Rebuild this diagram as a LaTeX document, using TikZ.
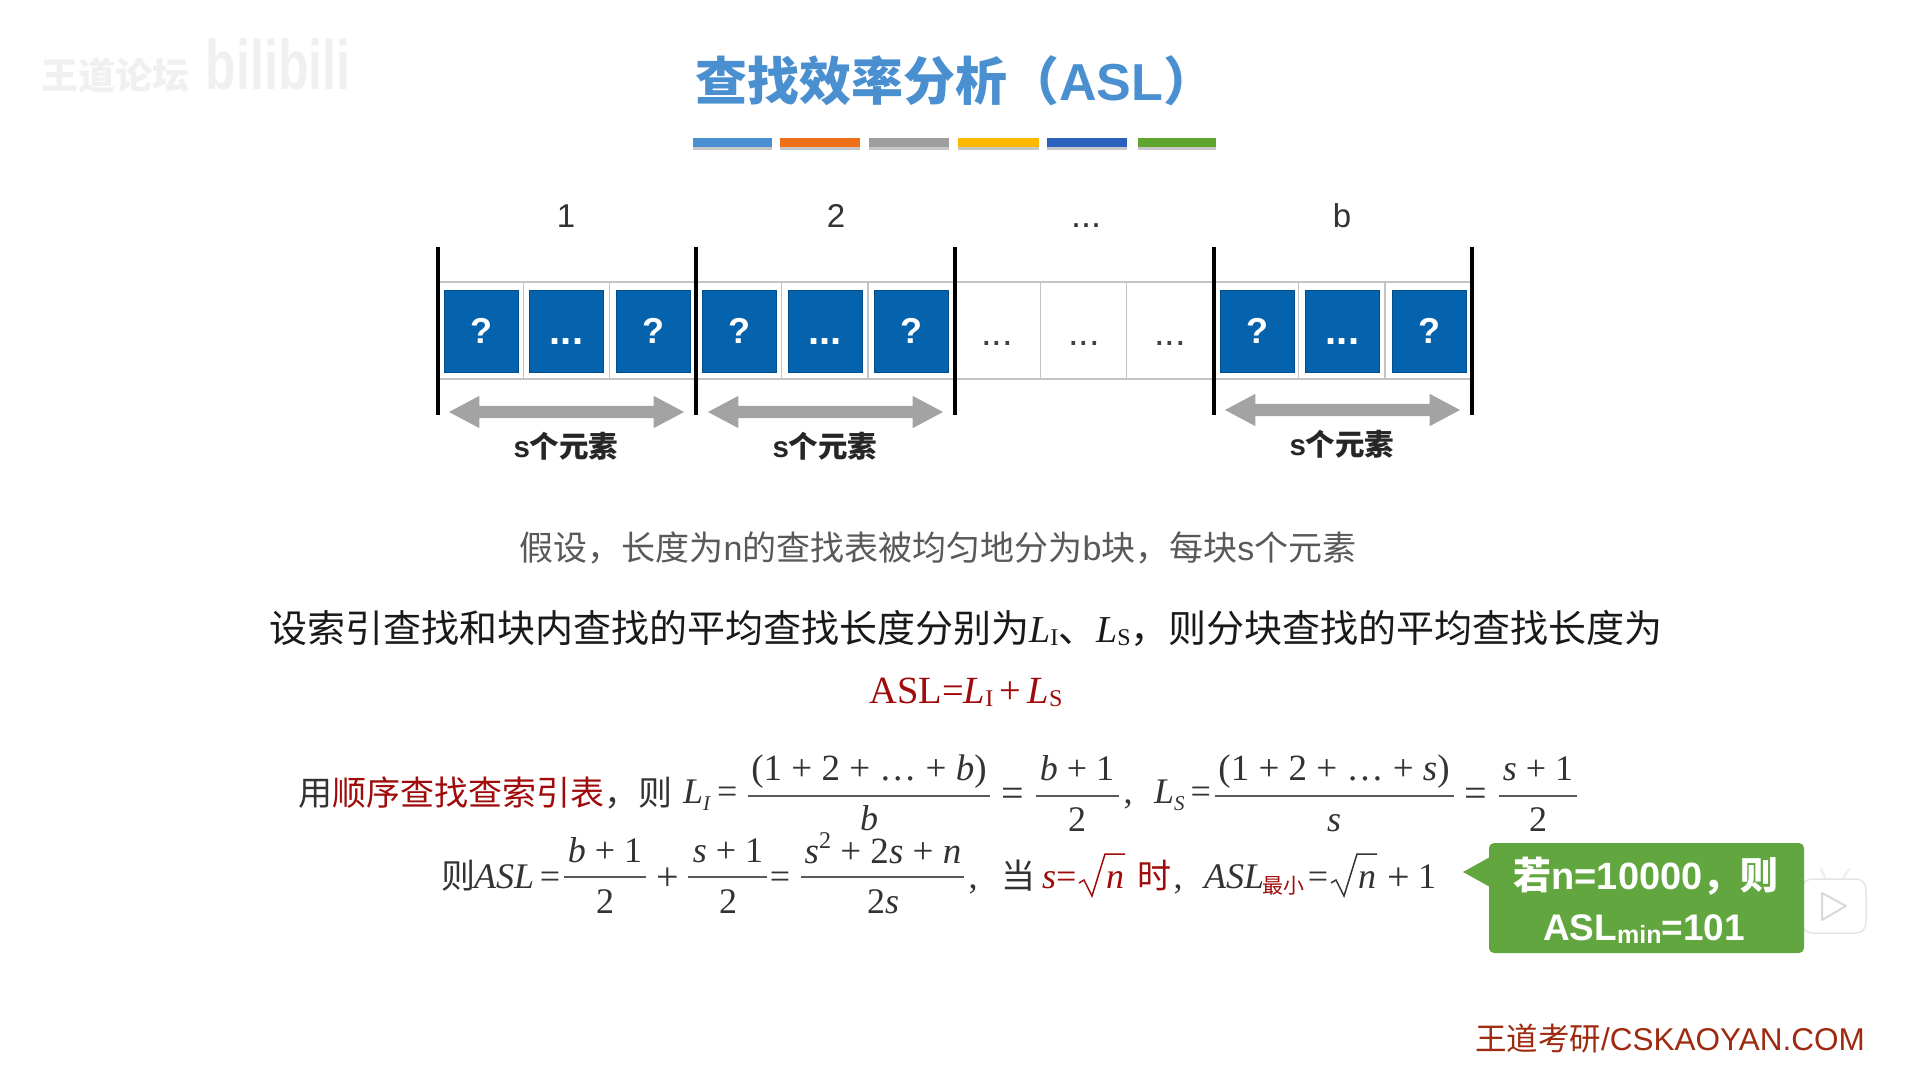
\documentclass[tikz,border=0pt]{standalone}
\usepackage{fontspec}
\usetikzlibrary{shapes.arrows}
\setmainfont{Liberation Sans}
\newfontfamily\cjk{Noto Sans CJK SC}
\newfontfamily\srf{Liberation Serif}
\newcommand{\fsz}[1]{\fontsize{#1}{#1}\selectfont}
\newcommand{\mi}[1]{\textit{#1}}
\newcommand{\subs}[2]{\raisebox{-0.2em}{\fsz{#1}#2}}
\newcommand{\subt}[2]{\raisebox{-0.08em}{\fsz{#1}#2}}
\definecolor{titleblue}{HTML}{4A90D0}
\definecolor{boxblue}{HTML}{0563AE}
\definecolor{boxedge}{HTML}{004E8C}
\definecolor{darkred}{HTML}{A00A0A}
\definecolor{callout}{HTML}{62A63F}
\definecolor{wm}{HTML}{F0F0F0}
\definecolor{gridgray}{HTML}{C4C4C4}
\definecolor{arrowgray}{HTML}{A3A3A3}
\definecolor{footred}{HTML}{9E2A10}
\definecolor{sA}{HTML}{4A90D0}
\definecolor{sB}{HTML}{F0701A}
\definecolor{sC}{HTML}{9E9E9E}
\definecolor{sD}{HTML}{FFB800}
\definecolor{sE}{HTML}{2A62BE}
\definecolor{sF}{HTML}{5FA52E}
\tikzset{
  x=1pt,y=-1pt,
  stripe/.style={minimum height=9pt,inner sep=0pt,outer sep=0pt,anchor=north west},
  cellbox/.style={fill=boxblue,draw=boxedge,line width=0.8pt,minimum width=74pt,minimum height=82pt,inner sep=0pt,text=white,font=\fsz{36}\bfseries},
  celldots/.style={text=white,font=\fsz{40}\bfseries,inner sep=0pt},
  cellgap/.style={text=black!75,font=\fsz{38},inner sep=0pt},
  divider/.style={black,line width=3.4pt},
  grid/.style={gridgray,line width=1.3pt},
  span/.style={double arrow,fill=arrowgray,minimum height=235pt,inner xsep=0pt,inner ysep=6pt,double arrow head extend=10pt,double arrow tip angle=56},
  spanlabel/.style={font=\fsz{29.5}\bfseries,text=black!85,inner sep=0pt},
  blocknum/.style={font=\fsz{33},text=black!80,inner sep=0pt},
  mth/.style={font=\srf\fsz{36},text=black!80,inner sep=0pt,anchor=base},
  mbig/.style={mth,font=\srf\fsz{37}},
  mred/.style={mth,text=darkred},
  cn/.style={font=\cjk\fsz{34},text=black!80,inner sep=0pt,anchor=base},
  fracline/.style={black!65,line width=1.5pt},
  root/.style={line width=1.5pt,line join=miter},
}
\begin{document}
\begin{tikzpicture}
\useasboundingbox (0,0) rectangle (1910,1065);
\fill[white] (0,0) rectangle (1910,1065);

% watermark
\node[font=\cjk\bfseries\fsz{37},text=wm,inner sep=0pt] (wmtext) at (115,75) {王道论坛};
\node[font=\bfseries\fsz{50},text=wm,inner sep=0pt,yscale=1.4] (wmlogo) at (278,64) {bilibili};

% title
\node[font=\cjk\bfseries\fsz{52},text=titleblue,inner sep=0pt] (title) at (955,81) {查找效率分析（{\fontspec{Liberation Sans}\bfseries ASL}）};

% stripes
\foreach \a/\b/\c [count=\i] in {693/772/sA,780/860/sB,869/949/sC,958/1039/sD,1047/1127/sE,1138/1216/sF}{
  \fill[black!22] (\a,141) rectangle (\b,150);
  \node[stripe,minimum width={\b-\a},fill=\c] (stripe\i) at (\a,138) {};
}

% grid
\draw[grid] (437,282) -- (1471,282);
\draw[grid] (437,379) -- (1471,379);
\foreach \k in {0,...,11}{
  \draw[grid] ({437+\k*86.17},282) -- ({437+\k*86.17},379);
}

% blue boxes
\foreach \s/\n in {437/a,695.5/b,1213/d}{
  \node[cellbox] (\n1) at (\s+44,331) {?};
  \node[cellbox] (\n2) at (\s+129.5,331) {};
  \node[celldots] (\n4) at (\s+129.5,342) {...};
  \node[cellbox] (\n3) at (\s+216,331) {?};
}
\node[cellgap] (c1) at (997,343) {...};
\node[cellgap] (c2) at (1084,343) {...};
\node[cellgap] (c3) at (1170,343) {...};

% dividers
\foreach \x/\n in {438/0,696/1,955/2,1214/3,1472/4}{
  \coordinate (dtop\n) at (\x,247);
  \coordinate (dbot\n) at (\x,415);
  \draw[divider] (dtop\n) -- (dbot\n);
}

% block numbers
\node[blocknum] (n1) at (566,216) {1};
\node[blocknum] (n2) at (836,216) {2};
\node[blocknum,font=\fsz{36}] (n3) at (1086,226) {...};
\node[blocknum] (n4) at (1342,216) {b};

% spans
\node[span] (s1) at (566.5,412) {};
\node[span] (s2) at (825.5,412) {};
\node[span] (s3) at (1342.5,410) {};
\node[spanlabel] (l1) at (566,446) {s{\cjk\bfseries 个元素}};
\node[spanlabel] (l2) at (825,446) {s{\cjk\bfseries 个元素}};
\node[spanlabel] (l3) at (1342,444) {s{\cjk\bfseries 个元素}};

% text lines
\node[font=\fsz{34},text=black!65,inner sep=0pt] (t1) at (938,548) {{\cjk 假设，长度为}n{\cjk 的查找表被均匀地分为}b{\cjk 块，每块}s{\cjk 个元素}};
\node[font=\cjk\fsz{38},text=black!90,inner sep=0pt] (t2) at (966,628) {设索引查找和块内查找的平均查找长度分别为{\srf\mi{L}\subt{24}{I}}、{\srf\mi{L}\subt{24}{S}}，则分块查找的平均查找长度为};
\node[font=\srf\fsz{38.5},text=darkred,inner sep=0pt] (t3) at (966,692) {ASL=\mi{L}\subt{24}{I}\,+\,\mi{L}\subt{24}{S}};

% formula line 1
\node[cn,anchor=base west] (f1) at (298,805) {用\textcolor{darkred}{顺序查找查索引表}，则};
\node[mth,anchor=base west] (f2) at (683,803) {\mi{L}\subs{21}{\mi{I}}\,=};
\draw[fracline] (748,796) -- (990,796);
\node[mbig] (f3) at (869,780) {(1 + 2 + … + \mi{b})};
\node[mth] (f4) at (869,830) {\mi{b}};
\node[mth] (f5) at (1013,806) {\fsz{40}=};
\draw[fracline] (1036,796) -- (1119,796);
\node[mth] (f6) at (1077,780) {\mi{b} + 1};
\node[mth] (f7) at (1077,831) {2};
\node[mth] (f8) at (1128,803) {,};
\node[mth,anchor=base west] (f9) at (1154,803) {\mi{L}\subs{21}{\mi{S}}\,=};
\draw[fracline] (1215,796) -- (1454,796);
\node[mbig] (f10) at (1334,780) {(1 + 2 + … + \mi{s})};
\node[mth] (f11) at (1334,831) {\mi{s}};
\node[mth] (f12) at (1476,806) {\fsz{40}=};
\draw[fracline] (1499,796) -- (1577,796);
\node[mth] (f13) at (1538,780) {\mi{s} + 1};
\node[mth] (f14) at (1538,831) {2};

% formula line 2
\node[cn,anchor=base west] (g1) at (441,888) {则};
\node[mth,anchor=base west] (g2) at (474,888) {\mi{ASL}};
\node[mth] (g3) at (550,888) {=};
\draw[fracline] (564,877) -- (646,877);
\node[mth] (g4) at (605,862) {\mi{b} + 1};
\node[mth] (g5) at (605,913) {2};
\node[mth] (g6) at (668,890) {\fsz{40}+};
\draw[fracline] (688,877) -- (767,877);
\node[mth] (g7) at (728,862) {\mi{s} + 1};
\node[mth] (g8) at (728,913) {2};
\node[mth] (g9) at (780,888) {=};
\draw[fracline] (801,877) -- (964,877);
\node[mbig] (g10) at (883,863) {\mi{s}\raisebox{0.38em}{\fsz{24}2} + 2\mi{s} + \mi{n}};
\node[mth] (g11) at (883,913) {2\mi{s}};
\node[mth] (g12) at (973,888) {,};
\node[cn,anchor=base west] (g13) at (1001,888) {当};
\node[mred,anchor=base west] (g14) at (1042,888) {\mi{s}=};
\draw[root,darkred] (1079,883) -- (1084,880) -- (1092,896) -- (1105,854) -- (1125,854);
\node[mred] (g15) at (1115,888) {\mi{n}};
\node[cn,anchor=base west,text=darkred] (g16) at (1137,888) {时};
\node[mth] (g17) at (1178,888) {,};
\node[mth,anchor=base west] (g18) at (1204,888) {\mi{ASL}};
\node[cn,anchor=base west,text=darkred,font=\cjk\fsz{21}] (g19) at (1262,893) {最小};
\node[mth] (g20) at (1318,888) {=};
\draw[root,black!80] (1331,883) -- (1336,880) -- (1344,896) -- (1357,854) -- (1377,854);
\node[mth] (g21) at (1367,888) {\mi{n}};
\node[mth] (g22) at (1399,890) {\fsz{40}+};
\node[mth] (g23) at (1427,888) {1};

% play icon
\draw[wm,line width=2.5pt,line cap=round] (1826,880) -- (1821,869);
\draw[wm,line width=2.5pt,line cap=round] (1842,880) -- (1849,869);
\draw[fill=white,draw=black!10,line width=1.5pt,rounded corners=10pt] (1802,879) rectangle (1866,933);
\draw[fill=white,draw=black!15,line width=2pt,line join=round] (1822,893) -- (1846,906) -- (1822,920) -- cycle;

% callout
\fill[callout,rounded corners=5pt] (1489,843) rectangle (1804,953);
\fill[callout] (1490,857) -- (1463,872) -- (1490,887) -- cycle;
\node[font=\bfseries\fsz{38},text=white,inner sep=0pt] (c4) at (1646,876) {{\cjk\bfseries 若}n=10000{\cjk\bfseries ，则}};
\node[font=\bfseries\fsz{37},text=white,inner sep=0pt] (c5) at (1644,929) {ASL\subt{25}{min}=101};

% footer
\node[font=\fsz{31.5},text=footred,inner sep=0pt] (foot) at (1670,1039) {{\cjk 王道考研}/CSKAOYAN.COM};
\end{tikzpicture}
\end{document}
